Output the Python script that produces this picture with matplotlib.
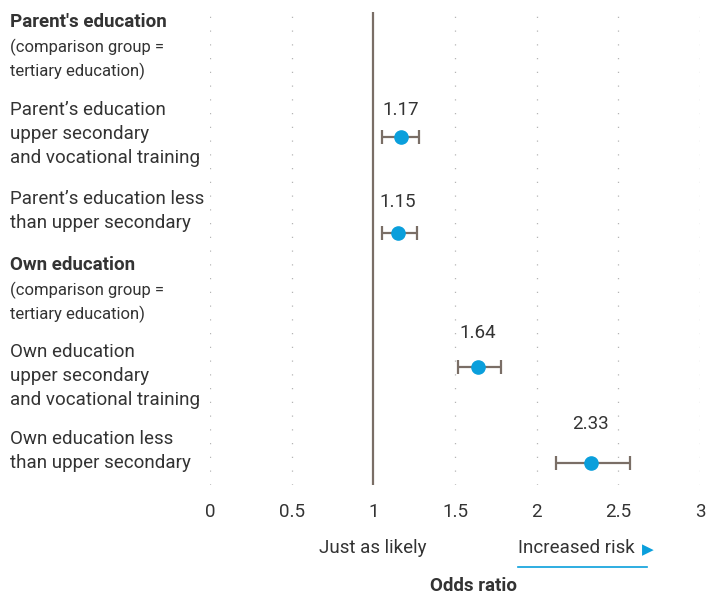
import matplotlib
matplotlib.use('Agg')
import matplotlib.pyplot as plt
from matplotlib.lines import Line2D
from matplotlib.transforms import blended_transform_factory

# data
odds = [1.17, 1.15, 1.64, 2.33]
ci_low = [1.05, 1.05, 1.52, 2.12]
ci_high = [1.28, 1.27, 1.78, 2.57]
value_labels = ['1.17', '1.15', '1.64', '2.33']

headers = ["Parent's education", "Own education"]
header_note = ["(comparison group =", "tertiary education)"]
row_labels = [["Parent\u2019s education", "upper secondary", "and vocational training"],
              ["Parent\u2019s education less", "than upper secondary"],
              ["Own education", "upper secondary", "and vocational training"],
              ["Own education less", "than upper secondary"]]
xticks = [0, 0.5, 1, 1.5, 2, 2.5, 3]
xtick_labels = ['0', '0.5', '1', '1.5', '2', '2.5', '3']

# layout (pixel rows of the 706x597 canvas)
W, H = 706, 597
row_y = [137, 233, 367, 463]
label_top = [110, 199, 352, 439]
header_top = [22, 265]
label_off = [27, 31, 34, 39]

txt = '#333333'
blue = '#0a9fdc'
brown = '#7a6e66'
plt.rcParams['font.family'] = ['Roboto', 'DejaVu Sans']

fig = plt.figure(figsize=(W / 100, H / 100), dpi=100)
ax = fig.add_axes([210 / W, 1 - 485 / H, 490 / W, (485 - 12) / H])
ax.set_xlim(0, 3)
ax.set_ylim(485, 12)
for s in ax.spines.values():
    s.set_visible(False)
ax.set_yticks([])
ax.set_xticks(xticks)
ax.set_xticklabels(xtick_labels, fontsize=13.5, color=txt)
ax.tick_params(axis='x', length=0, pad=13)

for t in xticks:
    if t != 1:
        ax.axvline(t, color='#b5b5b5', lw=0.9, ls=(0, (1, 10)), zorder=0)
ax.axvline(1, color=brown, lw=1.6, zorder=1)

for i in range(len(odds)):
    ax.errorbar(odds[i], row_y[i],
                xerr=[[odds[i] - ci_low[i]], [ci_high[i] - odds[i]]],
                fmt='o', color=blue, ms=9.5, ecolor=brown, elinewidth=1.6,
                capsize=5, capthick=1.6, zorder=3)
    ax.text(odds[i], row_y[i] - label_off[i], value_labels[i], ha='center',
            va='center', fontsize=13.5, color=txt)

tr = blended_transform_factory(fig.transFigure, ax.transData)
lx = 10 / W
for k, top in enumerate(header_top):
    ax.text(lx, top, headers[k], transform=tr, fontsize=13.5, weight='bold',
            color=txt, va='center', ha='left')
    for j, line in enumerate(header_note):
        ax.text(lx, top + 25 + j * 24, line, transform=tr, fontsize=12,
                color=txt, va='center', ha='left')
for i, lines in enumerate(row_labels):
    for j, line in enumerate(lines):
        ax.text(lx, label_top[i] + j * 24, line, transform=tr, fontsize=13.5,
                color=txt, va='center', ha='left')

fig.text(373 / W, 1 - 548 / H, 'Just as likely', ha='center', va='center',
         fontsize=13.5, color=txt)
fig.text(518 / W, 1 - 548 / H, 'Increased risk', ha='left', va='center',
         fontsize=13.5, color=txt)
fig.text(648 / W, 1 - 550 / H, '\u25b6', ha='center', va='center',
         fontsize=11, color=blue, family='DejaVu Sans')
fig.add_artist(Line2D([518 / W, 647 / W], [1 - 567 / H, 1 - 567 / H],
                      color=blue, lw=1.2))
fig.text(473 / W, 1 - 586 / H, 'Odds ratio', ha='center', va='center',
         fontsize=13.5, weight='bold', color=txt)

fig.savefig('out.png', dpi=100)
